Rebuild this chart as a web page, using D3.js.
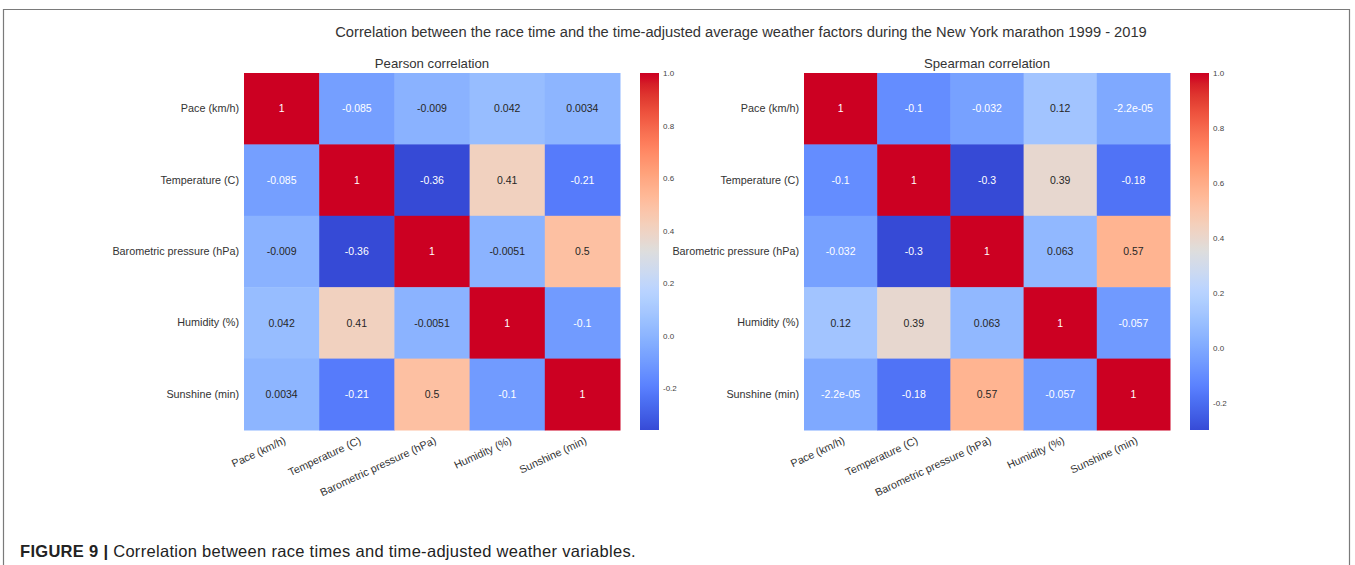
<!DOCTYPE html>
<html>
<head>
<meta charset="utf-8">
<script src="https://cdn.jsdelivr.net/npm/d3@7"></script>
<style>
  html, body { margin: 0; padding: 0; background: #fff; }
  svg { display: block; font-family: "Liberation Sans", Arial, sans-serif; }
</style>
</head>
<body>
<svg id="chart" width="1355" height="565"></svg>
<script>
// ---------------- data ----------------
const variables = ["Pace (km/h)", "Temperature (C)", "Barometric pressure (hPa)", "Humidity (%)", "Sunshine (min)"];

const pearsonValues = [
  [1, -0.085, -0.009, 0.042, 0.0034],
  [-0.085, 1, -0.36, 0.41, -0.21],
  [-0.009, -0.36, 1, -0.0051, 0.5],
  [0.042, 0.41, -0.0051, 1, -0.1],
  [0.0034, -0.21, 0.5, -0.1, 1]
];

const spearmanValues = [
  [1, -0.1, -0.032, 0.12, -2.2e-05],
  [-0.1, 1, -0.3, 0.39, -0.18],
  [-0.032, -0.3, 1, 0.063, 0.57],
  [0.12, 0.39, 0.063, 1, -0.057],
  [-2.2e-05, -0.18, 0.57, -0.057, 1]
];

const colorbarTicks = [-0.2, 0.0, 0.2, 0.4, 0.6, 0.8, 1.0];

const titleText = "Correlation between the race time and the time-adjusted average weather factors during the New York marathon 1999 - 2019";
const panelTitles = ["Pearson correlation", "Spearman correlation"];
const captionBold = "FIGURE 9 |";
const captionText = " Correlation between race times and time-adjusted weather variables.";

// matplotlib "coolwarm" control points
const coolwarmStops = [
  [59,76,192],[68,90,204],[77,104,215],[87,117,225],[98,130,234],[108,142,241],[119,154,247],[130,165,251],
  [141,176,254],[152,185,255],[163,194,255],[174,201,253],[184,208,249],[194,213,244],[204,217,238],[213,219,230],
  [221,221,221],[229,216,209],[236,211,197],[241,204,184],[245,196,172],[247,187,159],[247,177,147],[247,166,134],
  [244,154,123],[241,141,111],[236,127,99],[229,112,89],[222,96,77],[213,80,66],[203,62,56],[192,40,47],[180,4,38]
];

// ---------------- helpers ----------------
const cwScale = d3.scaleLinear()
  .domain(coolwarmStops.map((_, i) => i / (coolwarmStops.length - 1)))
  .range(coolwarmStops.map(c => `rgb(${c[0]},${c[1]},${c[2]})`))
  .interpolate(d3.interpolateRgb)
  .clamp(true);
const cw = t => d3.rgb(cwScale(t));

function boost(c) {
  const k = 1.2;
  const L = 0.299 * c.r + 0.587 * c.g + 0.114 * c.b;
  const f = v => Math.max(0, Math.min(255, Math.round(L + k * (v - L))));
  return d3.rgb(f(c.r), f(c.g), f(c.b)).formatHex();
}
function lum(c) {
  const lin = v => { v /= 255; return v <= 0.03928 ? v / 12.92 : Math.pow((v + 0.055) / 1.055, 2.4); };
  return 0.2126 * lin(c.r) + 0.7152 * lin(c.g) + 0.0722 * lin(c.b);
}
function fmt(v) {
  if (v !== 0 && Math.abs(v) < 1e-4) {
    let s = v.toExponential(1);
    return s.replace(/e([+-])(\d)$/, "e$10$2");
  }
  return String(parseFloat(v.toPrecision(2)));
}
const tickFmt = v => (v < 0 ? "-" : "") + Math.abs(v).toFixed(1);

const svg = d3.select("#chart");
svg.append("rect").attr("width", 1355).attr("height", 565).attr("fill", "#fff");

// frame (open at bottom)
svg.append("path")
  .attr("d", "M3.5,570 L3.5,9.5 L1349.5,9.5 L1349.5,570")
  .attr("fill", "none").attr("stroke", "#7a7a7a").attr("stroke-width", 1.2);

svg.append("text")
  .attr("x", 741).attr("y", 37)
  .attr("text-anchor", "middle")
  .attr("font-size", 14.7).attr("fill", "#333")
  .text(titleText);

const defs = svg.append("defs");

function drawPanel(values, title, x0, x1, cbx, idx) {
  const y0 = 73, y1 = 430;
  const flat = values.flat();
  const vmin = d3.min(flat), vmax = d3.max(flat);
  const norm = d3.scaleLinear().domain([vmin, vmax]).range([0, 1]);

  const x = d3.scaleBand().domain(variables).range([x0, x1]);
  const y = d3.scaleBand().domain(variables).range([y0, y1]);

  const g = svg.append("g");
  g.append("text")
    .attr("x", (x0 + x1) / 2).attr("y", 68)
    .attr("text-anchor", "middle").attr("font-size", 13.2).attr("fill", "#333")
    .text(title);

  const cells = [];
  values.forEach((row, i) => row.forEach((v, j) => cells.push({ r: variables[i], c: variables[j], v })));

  g.selectAll("rect.cell").data(cells).enter().append("rect")
    .attr("class", "cell")
    .attr("x", d => x(d.c)).attr("y", d => y(d.r))
    .attr("width", x.bandwidth() + 0.5).attr("height", y.bandwidth() + 0.5)
    .attr("fill", d => boost(cw(norm(d.v))));

  g.selectAll("text.ann").data(cells).enter().append("text")
    .attr("class", "ann")
    .attr("x", d => x(d.c) + x.bandwidth() / 2)
    .attr("y", d => y(d.r) + y.bandwidth() / 2)
    .attr("text-anchor", "middle").attr("dy", "0.35em")
    .attr("font-size", 10.5)
    .attr("fill", d => lum(cw(norm(d.v))) > 0.408 ? "#262626" : "#ffffff")
    .text(d => fmt(d.v));

  // y axis labels
  const yAxis = d3.axisLeft(y).tickSize(0).tickPadding(5);
  const ya = g.append("g").attr("transform", `translate(${x0},0)`).call(yAxis);
  ya.select(".domain").remove();
  ya.selectAll("text").attr("font-size", 10.8).attr("fill", "#333")
    .attr("font-family", "Liberation Sans, Arial, sans-serif");

  // x axis labels
  const xAxis = d3.axisBottom(x).tickSize(0).tickPadding(0);
  const xa = g.append("g").attr("transform", `translate(0,${y1})`).call(xAxis);
  xa.select(".domain").remove();
  xa.selectAll("text")
    .attr("font-size", 10.8).attr("fill", "#333")
    .attr("font-family", "Liberation Sans, Arial, sans-serif")
    .attr("text-anchor", "end")
    .attr("dy", null).attr("y", null)
    .attr("transform", "translate(5,13) rotate(-25)");

  // colorbar
  const gid = "cb" + idx;
  const grad = defs.append("linearGradient").attr("id", gid)
    .attr("x1", 0).attr("y1", 1).attr("x2", 0).attr("y2", 0);
  d3.range(0, 1.0001, 1 / 64).forEach(t => {
    grad.append("stop").attr("offset", t).attr("stop-color", boost(cw(t)));
  });
  g.append("rect").attr("x", cbx).attr("y", y0).attr("width", 19).attr("height", y1 - y0)
    .attr("fill", `url(#${gid})`);
  const cbScale = d3.scaleLinear().domain([vmin, vmax]).range([y1, y0]);
  const cbAxis = d3.axisRight(cbScale).tickValues(colorbarTicks).tickFormat(tickFmt).tickSize(0).tickPadding(4);
  const ca = g.append("g").attr("transform", `translate(${cbx + 19},0)`).call(cbAxis);
  ca.select(".domain").remove();
  ca.selectAll("text").attr("font-size", 8).attr("fill", "#444")
    .attr("font-family", "Liberation Sans, Arial, sans-serif");
}

drawPanel(pearsonValues, panelTitles[0], 244, 620, 640, 0);
drawPanel(spearmanValues, panelTitles[1], 804, 1170, 1190, 1);

const cap = svg.append("text").attr("x", 20).attr("y", 557)
  .attr("font-size", 16.5).attr("letter-spacing", 0.3).attr("fill", "#222");
cap.append("tspan").attr("font-weight", "bold").text(captionBold);
cap.append("tspan").text(captionText);
</script>
</body>
</html>
